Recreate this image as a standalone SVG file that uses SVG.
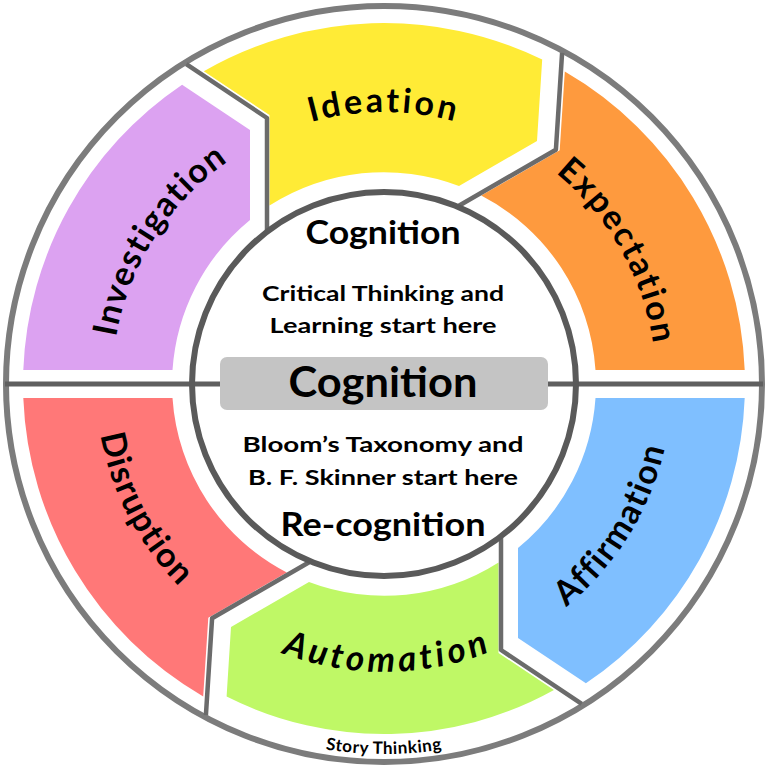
<svg xmlns="http://www.w3.org/2000/svg" width="768" height="768" viewBox="0 0 768 768">
<style>
.lbl{font-family:Lato,"Open Sans","Liberation Sans",sans-serif;font-weight:bold;fill:#000;font-size:34px}
.ctr{font-family:Lato,"Open Sans","Liberation Sans",sans-serif;font-weight:bold;fill:#000;text-anchor:middle}
.sep{fill:none;stroke:#6b6b6b;stroke-width:4.5;stroke-linejoin:round}
</style>
<defs>
<path id="topArc" d="M112,384 A272,272 0 0 1 656,384"/>
<path id="botArc" d="M96,384 A288,288 0 0 0 672,384"/>
<path id="rimArc" d="M14,384 A370,370 0 0 0 754,384"/>
</defs>
<rect width="768" height="768" fill="#fff"/>
<g id="frame">
<circle cx="384" cy="384" r="378" fill="none" stroke="#7c7c7c" stroke-width="6"/>
</g>
<g id="connectors">
<line x1="5" y1="384" x2="763" y2="384" stroke="#5f5f5f" stroke-width="5"/>
</g>
<g id="investigation">
<path fill="#dca2f1" d="M23.3,370 A361,361 0 0 1 182.1,84.7 L250,130 L250,220 A212,212 0 0 0 172.5,370 Z"/>
<text class="lbl" letter-spacing="1.5"><textPath href="#topArc" startOffset="18.1%" text-anchor="middle">Investigation</textPath></text>
</g>
<g id="ideation">
<path fill="#ffeb36" d="M203.8,71.2 A361,361 0 0 1 542.2,59.5 L537,141 L459,186 A212,212 0 0 0 269.5,205.6 L269.5,115 Z"/>
<text class="lbl" letter-spacing="3"><textPath href="#topArc" startOffset="50%" text-anchor="middle">Ideation</textPath></text>
</g>
<g id="expectation">
<path fill="#fe9a3e" d="M564.8,71.6 A361,361 0 0 1 744.7,370 L595.5,370 A212,212 0 0 0 481.2,195.6 L559.7,150.3 Z"/>
<text class="lbl" letter-spacing="2"><textPath href="#topArc" startOffset="83.6%" text-anchor="middle">Expectation</textPath></text>
</g>
<g id="affirmation">
<path fill="#7fbfff" transform="rotate(180 384 384)" d="M23.3,370 A361,361 0 0 1 182.1,84.7 L250,130 L250,220 A212,212 0 0 0 172.5,370 Z"/>
<text class="lbl" letter-spacing="1.6"><textPath href="#botArc" startOffset="82.4%" text-anchor="middle">Affirmation</textPath></text>
</g>
<g id="automation">
<path fill="#bff866" transform="rotate(180 384 384)" d="M214.05,78 A350,350 0 0 1 541.4,71.4 L537,141 L459,186 A212,212 0 0 0 269.5,205.6 L269.5,115 Z"/>
<text class="lbl" font-style="italic" letter-spacing="4" style="font-size:35px"><textPath href="#botArc" startOffset="50.4%" text-anchor="middle">Automation</textPath></text>
</g>
<g id="disruption">
<path fill="#ff7878" transform="rotate(180 384 384)" d="M564.8,71.6 A361,361 0 0 1 744.7,370 L595.5,370 A212,212 0 0 0 481.2,195.6 L559.7,150.3 Z"/>
<text class="lbl" letter-spacing="1.4"><textPath href="#botArc" startOffset="15.3%" text-anchor="middle">Disruption</textPath></text>
</g>
<g id="connectors-chevrons">
<polyline class="sep" points="186.3,64.2 267,118 267,230"/>
<polyline class="sep" points="562.1,52.9 555.9,149.7 458.9,205.7"/>
<polyline class="sep" transform="rotate(180 384 384)" points="186.3,64.2 267,118 267,230"/>
<polyline class="sep" transform="rotate(180 384 384)" points="562.1,52.9 555.9,149.7 458.9,205.7"/>
</g>
<g id="center">
<circle cx="384" cy="384" r="192" fill="none" stroke="#5a5a5a" stroke-width="6"/>
<text class="ctr" x="383" y="244" font-size="33" textLength="155" lengthAdjust="spacingAndGlyphs">Cognition</text>
<text class="ctr" x="383" y="301" font-size="21" textLength="242" lengthAdjust="spacingAndGlyphs">Critical Thinking and</text>
<text class="ctr" x="383" y="333" font-size="21" textLength="227" lengthAdjust="spacingAndGlyphs">Learning start here</text>
<rect x="220" y="357" width="328" height="53" rx="7" fill="#c4c4c4"/>
<text class="ctr" x="383" y="397" font-size="42" textLength="189" lengthAdjust="spacingAndGlyphs">Cognition</text>
<text class="ctr" x="383" y="452" font-size="21" textLength="281" lengthAdjust="spacingAndGlyphs">Bloom’s Taxonomy and</text>
<text class="ctr" x="383" y="485" font-size="21" textLength="270" lengthAdjust="spacingAndGlyphs">B. F. Skinner start here</text>
<text class="ctr" x="383" y="536" font-size="33" textLength="205" lengthAdjust="spacingAndGlyphs">Re-cognition</text>
</g>
<g id="story">
<text class="lbl" letter-spacing="0.6" style="font-size:17px"><textPath href="#rimArc" startOffset="50%" text-anchor="middle">Story Thinking</textPath></text>
</g>
</svg>
